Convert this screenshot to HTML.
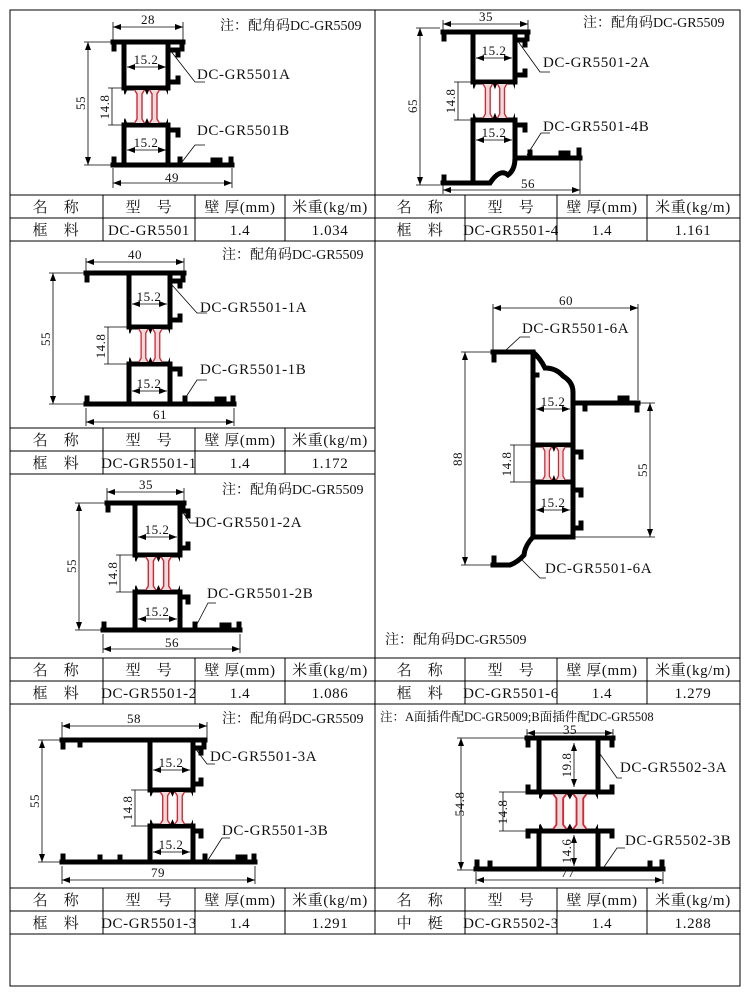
<!DOCTYPE html>
<html><head><meta charset="utf-8"><style>
html,body{margin:0;padding:0;background:#fff;width:750px;height:995px;overflow:hidden}
svg{display:block}
text{font-family:"Liberation Serif","Noto Serif CJK SC",serif;fill:#111}
.t{font-size:15px;letter-spacing:0.6px}
.n{font-size:14px}
.d{font-size:13px;letter-spacing:0.5px}
.p{fill:none;stroke:#000;stroke-width:5;stroke-linecap:square;stroke-linejoin:miter}
.dl{stroke:#000;stroke-width:0.8;fill:none}
.g{stroke:#000;stroke-width:1;fill:none}
</style></head><body>
<svg width="750" height="995" viewBox="0 0 750 995" xmlns="http://www.w3.org/2000/svg">
<defs>
<marker id="a" markerWidth="8" markerHeight="6" refX="8" refY="3" orient="auto-start-reverse" markerUnits="userSpaceOnUse"><path d="M0,0 L8,3 L0,6z" fill="#000"/></marker>
<symbol id="br" viewBox="0 0 44 37" preserveAspectRatio="none">
<path d="M10,1 h11 l-3,5 v25 l3,5 h-11 l3,-5 v-25z" fill="#e4dede" stroke="#d23" stroke-width="1.4"/>
<path d="M25,1 h11 l-3,5 v25 l3,5 h-11 l3,-5 v-25z" fill="#e4dede" stroke="#d23" stroke-width="1.4"/>
<path d="M-4,0 h52 v2 h-52z M-5,35 h54 v2 h-54z" fill="#000"/>
<path d="M-3,0 l4,7 l3,-7z M20,0 l3,7 l3,-7z M41,0 l3,7 l4,-7z M-3,37 l4,-7 l3,7z M20,37 l3,-7 l3,7z M41,37 l3,-7 l4,7z" fill="#000"/>
</symbol>
</defs>

<g class="g">
<rect x="10" y="10" width="730" height="976"/>
<line x1="375" y1="10" x2="375" y2="934"/>
<line x1="10" y1="195" x2="740" y2="195"/><line x1="10" y1="218" x2="740" y2="218"/><line x1="10" y1="241" x2="740" y2="241"/>
<line x1="10" y1="428" x2="375" y2="428"/><line x1="10" y1="451" x2="375" y2="451"/><line x1="10" y1="474" x2="375" y2="474"/>
<line x1="10" y1="658" x2="740" y2="658"/><line x1="10" y1="681" x2="740" y2="681"/><line x1="10" y1="704" x2="740" y2="704"/>
<line x1="10" y1="888" x2="740" y2="888"/><line x1="10" y1="911" x2="740" y2="911"/><line x1="10" y1="934" x2="740" y2="934"/>
<path d="M103,195V241M195,195V241M285,195V241M465,195V241M557,195V241M647,195V241"/>
<path d="M103,428V474M195,428V474M285,428V474"/>
<path d="M103,658V704M195,658V704M285,658V704M465,658V704M557,658V704M647,658V704"/>
<path d="M103,888V934M195,888V934M285,888V934M465,888V934M557,888V934M647,888V934"/>
</g>

<g class="t" text-anchor="middle">
<text x="56" y="212">名　称</text><text x="149" y="212">型　号</text><text x="240" y="212">壁 厚(mm)</text><text x="330" y="212">米重(kg/m)</text>
<text x="56" y="235">框　料</text><text x="149" y="235">DC-GR5501</text><text x="240" y="235">1.4</text><text x="330" y="235">1.034</text>
<text x="420" y="212">名　称</text><text x="511" y="212">型　号</text><text x="602" y="212">壁 厚(mm)</text><text x="693" y="212">米重(kg/m)</text>
<text x="420" y="235">框　料</text><text x="511" y="235">DC-GR5501-4</text><text x="602" y="235">1.4</text><text x="693" y="235">1.161</text>
<text x="56" y="445">名　称</text><text x="149" y="445">型　号</text><text x="240" y="445">壁 厚(mm)</text><text x="330" y="445">米重(kg/m)</text>
<text x="56" y="468">框　料</text><text x="149" y="468">DC-GR5501-1</text><text x="240" y="468">1.4</text><text x="330" y="468">1.172</text>
<text x="56" y="675">名　称</text><text x="149" y="675">型　号</text><text x="240" y="675">壁 厚(mm)</text><text x="330" y="675">米重(kg/m)</text>
<text x="56" y="698">框　料</text><text x="149" y="698">DC-GR5501-2</text><text x="240" y="698">1.4</text><text x="330" y="698">1.086</text>
<text x="420" y="675">名　称</text><text x="511" y="675">型　号</text><text x="602" y="675">壁 厚(mm)</text><text x="693" y="675">米重(kg/m)</text>
<text x="420" y="698">框　料</text><text x="511" y="698">DC-GR5501-6</text><text x="602" y="698">1.4</text><text x="693" y="698">1.279</text>
<text x="56" y="905">名　称</text><text x="149" y="905">型　号</text><text x="240" y="905">壁 厚(mm)</text><text x="330" y="905">米重(kg/m)</text>
<text x="56" y="928">框　料</text><text x="149" y="928">DC-GR5501-3</text><text x="240" y="928">1.4</text><text x="330" y="928">1.291</text>
<text x="420" y="905">名　称</text><text x="511" y="905">型　号</text><text x="602" y="905">壁 厚(mm)</text><text x="693" y="905">米重(kg/m)</text>
<text x="420" y="928">中　梃</text><text x="511" y="928">DC-GR5502-3</text><text x="602" y="928">1.4</text><text x="693" y="928">1.288</text>
</g>

<g class="n">
<text x="220" y="30">注：配角码DC-GR5509</text>
<text x="583" y="27">注：配角码DC-GR5509</text>
<text x="222" y="259">注：配角码DC-GR5509</text>
<text x="222" y="494">注：配角码DC-GR5509</text>
<text x="385" y="644">注：配角码DC-GR5509</text>
<text x="222" y="723">注：配角码DC-GR5509</text>
<text x="380" y="721" style="font-size:12.5px">注：A面插件配DC-GR5009;B面插件配DC-GR5508</text>
</g>

<!-- Panel 1 -->
<path class="p" d="M113,42H183M114,42v7M182,42v7M124,42V88M168,42V88M124,88H168M168,50h10v5M168,82h10v-4M124,125H168M124,125V165M168,125V165M168,130h10v5M113,165H232M114,165v-6M231,165v-6M213,165v-5h7M180,165v-6"/>
<use href="#br" x="124" y="88" width="44" height="37"/>
<g class="dl"><line x1="113" y1="27" x2="183" y2="27" marker-start="url(#a)" marker-end="url(#a)"/><path d="M113,22V40M183,22V40"/>
<line x1="88" y1="42" x2="88" y2="165" marker-start="url(#a)" marker-end="url(#a)"/><path d="M84,42H112M84,165H112"/>
<line x1="113" y1="183" x2="232" y2="183" marker-start="url(#a)" marker-end="url(#a)"/><path d="M113,168V188M232,168V188"/>
<line x1="112" y1="88" x2="112" y2="125"/><path d="M108,88H124M108,125H124"/>
<line x1="127" y1="67" x2="166" y2="67" marker-start="url(#a)" marker-end="url(#a)"/>
<line x1="127" y1="150" x2="166" y2="150" marker-start="url(#a)" marker-end="url(#a)"/>
<path d="M170,50L195,82H205M182,162L195,145H205"/></g>
<g class="d" text-anchor="middle"><text x="148" y="24">28</text><text x="172" y="182">49</text><text x="146" y="64">15.2</text><text x="146" y="147">15.2</text>
<text transform="translate(85,103) rotate(-90)">55</text><text transform="translate(109,107) rotate(-90)">14.8</text></g>
<g class="t"><text x="197" y="79">DC-GR5501A</text><text x="197" y="135">DC-GR5501B</text></g>

<!-- Panel 2 -->
<path class="p" d="M443,32H528M444,32v7M527,32v7M473,32V82M515,32V82M473,82H515M515,40h10v5M515,75h10v-4M473,120H515M473,120V183M515,120V158M515,125h10v5M515,158H580M579,158v-8M561,158v-5h7M530,158v-6M443,183H490Q500,168 508,175Q515,170 515,158M444,183v-6"/>
<use href="#br" x="473" y="82" width="42" height="38"/>
<g class="dl"><line x1="443" y1="24" x2="528" y2="24" marker-start="url(#a)" marker-end="url(#a)"/><path d="M443,20V30M528,20V30"/>
<line x1="420" y1="28" x2="420" y2="185" marker-start="url(#a)" marker-end="url(#a)"/><path d="M416,28H440M416,185H440"/>
<line x1="443" y1="190" x2="580" y2="190" marker-start="url(#a)" marker-end="url(#a)"/><path d="M580,160V194M443,185V194"/>
<line x1="458" y1="82" x2="458" y2="120"/><path d="M454,82H473M454,120H473"/>
<line x1="476" y1="58" x2="512" y2="58" marker-start="url(#a)" marker-end="url(#a)"/>
<line x1="476" y1="140" x2="512" y2="140" marker-start="url(#a)" marker-end="url(#a)"/>
<path d="M517,40L540,72H550M527,155L541,133H550"/></g>
<g class="d" text-anchor="middle"><text x="486" y="21">35</text><text x="528" y="188">56</text><text x="494" y="55">15.2</text><text x="494" y="137">15.2</text>
<text transform="translate(417,106) rotate(-90)">65</text><text transform="translate(455,101) rotate(-90)">14.8</text></g>
<g class="t"><text x="543" y="67">DC-GR5501-2A</text><text x="543" y="131">DC-GR5501-4B</text></g>

<!-- Panel 3 -->
<path class="p" d="M86,273H184M87,273v7M183,273v7M129,273V327M170,273V327M129,327H170M170,281h10v5M170,320h10v-4M129,364H170M129,364V404M170,364V404M170,369h10v5M86,404H234M87,404v-6M233,404v-6M217,404v-5h7M185,404v-6"/>
<use href="#br" x="129" y="327" width="41" height="37"/>
<g class="dl"><line x1="86" y1="262" x2="184" y2="262" marker-start="url(#a)" marker-end="url(#a)"/><path d="M86,258V272M184,258V272"/>
<line x1="53" y1="273" x2="53" y2="404" marker-start="url(#a)" marker-end="url(#a)"/><path d="M49,273H85M49,404H85"/>
<line x1="86" y1="422" x2="234" y2="422" marker-start="url(#a)" marker-end="url(#a)"/><path d="M86,408V426M234,408V426"/>
<line x1="108" y1="327" x2="108" y2="364"/><path d="M104,327H129M104,364H129"/>
<line x1="132" y1="304" x2="167" y2="304" marker-start="url(#a)" marker-end="url(#a)"/>
<line x1="132" y1="391" x2="167" y2="391" marker-start="url(#a)" marker-end="url(#a)"/>
<path d="M172,285L197,313H207M184,400L197,380H207"/></g>
<g class="d" text-anchor="middle"><text x="135" y="259">40</text><text x="160" y="419">61</text><text x="149" y="301">15.2</text><text x="149" y="388">15.2</text>
<text transform="translate(50,339) rotate(-90)">55</text><text transform="translate(105,346) rotate(-90)">14.8</text></g>
<g class="t"><text x="200" y="312">DC-GR5501-1A</text><text x="200" y="374">DC-GR5501-1B</text></g>

<!-- Panel 4 -->
<path class="p" d="M107,503H184M108,503v7M183,503v7M135,503V555M180,503V555M135,555H180M180,511h8v5M180,548h8v-4M135,592H180M135,592V630M180,592V630M180,597h8v5M103,630H240M104,630v-6M239,630v-6M222,630v-5h7M195,630v-6"/>
<use href="#br" x="135" y="555" width="45" height="37"/>
<g class="dl"><line x1="107" y1="492" x2="184" y2="492" marker-start="url(#a)" marker-end="url(#a)"/><path d="M107,488V502M184,488V502"/>
<line x1="79" y1="503" x2="79" y2="630" marker-start="url(#a)" marker-end="url(#a)"/><path d="M75,503H106M75,630H102"/>
<line x1="103" y1="649" x2="240" y2="649" marker-start="url(#a)" marker-end="url(#a)"/><path d="M103,634V653M240,634V653"/>
<line x1="120" y1="555" x2="120" y2="592"/><path d="M116,555H135M116,592H135"/>
<line x1="138" y1="537" x2="177" y2="537" marker-start="url(#a)" marker-end="url(#a)"/>
<line x1="138" y1="619" x2="177" y2="619" marker-start="url(#a)" marker-end="url(#a)"/>
<path d="M182,511L190,523H198M196,626L208,603H216"/></g>
<g class="d" text-anchor="middle"><text x="146" y="489">35</text><text x="172" y="647">56</text><text x="157" y="534">15.2</text><text x="157" y="616">15.2</text>
<text transform="translate(76,566) rotate(-90)">55</text><text transform="translate(117,574) rotate(-90)">14.8</text></g>
<g class="t"><text x="195" y="527">DC-GR5501-2A</text><text x="207" y="598">DC-GR5501-2B</text></g>

<!-- Panel 5 -->
<path class="p" d="M493,352H533Q540,358 545,368Q556,368 563,376Q573,382 573,392V537M494,352v8M533,352V537M573,403H638M637,403v7M620,403v-5h7M585,403v6M533,445H573M533,482H573M573,452h8v5M573,490h8v5M573,528h8v-5M533,537H573M533,537Q525,545 524,555Q518,562 510,565H493M494,565v-7M533,375h4"/>
<use href="#br" x="533" y="445" width="40" height="37"/>
<g class="dl"><line x1="493" y1="308" x2="638" y2="308" marker-start="url(#a)" marker-end="url(#a)"/><path d="M493,304V350M638,304V400"/>
<line x1="465" y1="352" x2="465" y2="565" marker-start="url(#a)" marker-end="url(#a)"/><path d="M461,352H492M461,565H492"/>
<line x1="650" y1="403" x2="650" y2="537" marker-start="url(#a)" marker-end="url(#a)"/><path d="M640,403H655M575,537H655"/>
<line x1="514" y1="445" x2="514" y2="482"/><path d="M510,445H533M510,482H533"/>
<line x1="536" y1="409" x2="570" y2="409" marker-start="url(#a)" marker-end="url(#a)"/>
<line x1="536" y1="510" x2="570" y2="510" marker-start="url(#a)" marker-end="url(#a)"/>
<path d="M506,350L520,337H530M522,560L540,578H546"/></g>
<g class="d" text-anchor="middle"><text x="566" y="305">60</text><text x="553" y="406">15.2</text><text x="553" y="507">15.2</text>
<text transform="translate(462,459) rotate(-90)">88</text><text transform="translate(511,464) rotate(-90)">14.8</text><text transform="translate(647,470) rotate(-90)">55</text></g>
<g class="t"><text x="522" y="333">DC-GR5501-6A</text><text x="545" y="573">DC-GR5501-6A</text></g>

<!-- Panel 6 -->
<path class="p" d="M62,740H205M63,740v7M204,740v7M80,740v5M150,740V790M193,740V790M150,790H193M193,748h8v5M193,784h8v-4M150,826H193M150,826V862M193,826V862M193,831h8v5M62,862H255M63,862v-6M254,862v-6M238,862v-5h7M205,862v-6M100,862v-5M120,862v-5"/>
<use href="#br" x="150" y="790" width="43" height="36"/>
<g class="dl"><line x1="62" y1="726" x2="207" y2="726" marker-start="url(#a)" marker-end="url(#a)"/><path d="M62,722V738M207,722V738"/>
<line x1="42" y1="740" x2="42" y2="862" marker-start="url(#a)" marker-end="url(#a)"/><path d="M38,740H61M38,862H61"/>
<line x1="62" y1="880" x2="255" y2="880" marker-start="url(#a)" marker-end="url(#a)"/><path d="M62,866V884M255,866V884"/>
<line x1="135" y1="790" x2="135" y2="826"/><path d="M131,790H150M131,826H150"/>
<line x1="153" y1="770" x2="190" y2="770" marker-start="url(#a)" marker-end="url(#a)"/>
<line x1="153" y1="852" x2="190" y2="852" marker-start="url(#a)" marker-end="url(#a)"/>
<path d="M195,748L207,764H215M208,860L222,838H230"/></g>
<g class="d" text-anchor="middle"><text x="134" y="723">58</text><text x="158" y="877">79</text><text x="171" y="767">15.2</text><text x="171" y="849">15.2</text>
<text transform="translate(39,801) rotate(-90)">55</text><text transform="translate(132,808) rotate(-90)">14.8</text></g>
<g class="t"><text x="210" y="761">DC-GR5501-3A</text><text x="222" y="835">DC-GR5501-3B</text></g>

<!-- Panel 7 -->
<path class="p" d="M527,738H613M528,738v7M612,738v7M539,738V792M598,738V792M528,792H612M528,792v-5M612,792v-5M539,831V869M598,831V869M528,831H612M528,831v5M612,831v5M476,869H663M477,869v-7M662,869v-7M490,869v-6M650,869v-6"/>
<use href="#br" x="539" y="792" width="59" height="39"/>
<g class="dl"><line x1="527" y1="733" x2="613" y2="733" marker-start="url(#a)" marker-end="url(#a)"/><path d="M527,729V737M613,729V737"/>
<line x1="461" y1="738" x2="461" y2="870" marker-start="url(#a)" marker-end="url(#a)"/><path d="M457,738H526M457,870H475"/>
<line x1="476" y1="880" x2="663" y2="880" marker-start="url(#a)" marker-end="url(#a)"/><path d="M476,872V884M663,872V884"/>
<line x1="503" y1="792" x2="503" y2="831"/><path d="M499,792H530M499,831H530"/>
<line x1="574" y1="743" x2="574" y2="787" marker-start="url(#a)" marker-end="url(#a)"/>
<line x1="574" y1="835" x2="574" y2="866" marker-start="url(#a)" marker-end="url(#a)"/>
<path d="M600,754L617,778H622M604,867L617,848H625"/></g>
<g class="d" text-anchor="middle"><text x="570" y="734">35</text><text x="568" y="877">77</text>
<text transform="translate(464,804) rotate(-90)">54.8</text><text transform="translate(507,812) rotate(-90)">14.8</text><text transform="translate(571,765) rotate(-90)">19.8</text><text transform="translate(571,851) rotate(-90)">14.6</text></g>
<g class="t"><text x="620" y="772">DC-GR5502-3A</text><text x="625" y="845">DC-GR5502-3B</text></g>
</svg>
</body></html>
